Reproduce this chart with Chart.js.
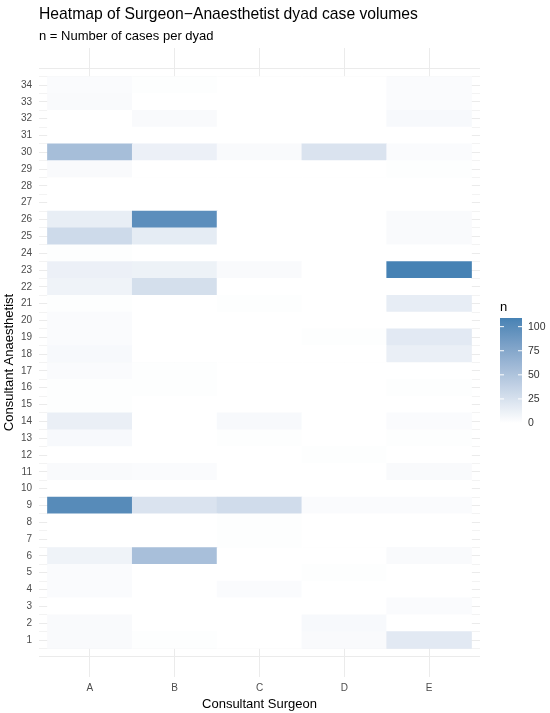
<!DOCTYPE html>
<html>
<head>
<meta charset="utf-8">
<script src="https://cdn.jsdelivr.net/npm/chart.js@4.4.1/dist/chart.umd.min.js"></script>
<style>
  html, body { margin: 0; padding: 0; background: #fff; }
  #wrap { width: 550px; height: 713px; }
</style>
</head>
<body>
<div id="wrap"><canvas id="heatChart"></canvas></div>
<script>
// surgeons on x, anaesthetists 1..34 on y
var surgeons = ["A", "B", "C", "D", "E"];
var anaesthetists = [];
for (var i = 1; i <= 34; i++) anaesthetists.push(i);

// case counts per surgeon, index 0 = anaesthetist 1
var casesA = [4, 4, 0, 3, 3, 10, 0, 0, 101, 0, 4, 0, 5, 13, 1, 1, 3, 5, 3, 3, 1, 10, 12, 1, 31, 14, 0, 0, 4, 55, 0, 0, 4, 3];
var casesB = [1, 0, 0, 0, 0, 54, 0, 0, 23, 0, 3, 0, 0, 0, 0, 1, 1, 0, 0, 0, 0, 27, 11, 0, 16, 98, 0, 0, 0, 12, 0, 4, 0, 1];
var casesC = [0, 0, 0, 3, 0, 0, 1, 1, 29, 0, 0, 0, 1, 5, 0, 0, 0, 0, 0, 0, 1, 0, 4, 0, 0, 0, 0, 0, 0, 4, 0, 0, 0, 0];
var casesD = [4, 5, 0, 0, 1, 0, 0, 0, 3, 0, 0, 1, 0, 0, 0, 0, 0, 0, 1, 0, 0, 0, 0, 0, 0, 0, 0, 0, 0, 23, 0, 0, 0, 0];
var casesE = [18, 0, 3, 0, 0, 4, 0, 0, 3, 0, 4, 0, 1, 3, 0, 1, 0, 13, 18, 0, 15, 0, 109, 0, 4, 4, 0, 0, 1, 3, 0, 5, 3, 3];

var legendTicks = [0, 25, 50, 75, 100];

var allCases = [casesA, casesB, casesC, casesD, casesE];
var nMax = 109;

// white -> steelblue, interpolated in Lab like ggplot's gradient
const toLab = (rgb) => {
  var lin = rgb.map((c) => { c /= 255; return c <= 0.04045 ? c / 12.92 : Math.pow((c + 0.055) / 1.055, 2.4); });
  var X = (0.4124 * lin[0] + 0.3576 * lin[1] + 0.1805 * lin[2]) / 0.95047;
  var Y = 0.2126 * lin[0] + 0.7152 * lin[1] + 0.0722 * lin[2];
  var Z = (0.0193 * lin[0] + 0.1192 * lin[1] + 0.9505 * lin[2]) / 1.08883;
  var f = (t) => t > 0.008856 ? Math.cbrt(t) : 7.787 * t + 16 / 116;
  return [116 * f(Y) - 16, 500 * (f(X) - f(Y)), 200 * (f(Y) - f(Z))];
};
const fromLab = (lab) => {
  var fy = (lab[0] + 16) / 116, fx = fy + lab[1] / 500, fz = fy - lab[2] / 200;
  var g = (t) => t * t * t > 0.008856 ? t * t * t : (t - 16 / 116) / 7.787;
  var X = g(fx) * 0.95047, Y = g(fy), Z = g(fz) * 1.08883;
  var lin = [
    3.2406 * X - 1.5372 * Y - 0.4986 * Z,
    -0.9689 * X + 1.8758 * Y + 0.0415 * Z,
    0.0557 * X - 0.2040 * Y + 1.0570 * Z
  ];
  return lin.map((c) => {
    c = c <= 0.0031308 ? 12.92 * c : 1.055 * Math.pow(c, 1 / 2.4) - 0.055;
    return Math.round(Math.max(0, Math.min(1, c)) * 255);
  });
};
var lowLab = toLab([255, 255, 255]);
var highLab = toLab([70, 130, 180]);

const fillColor = (n) => {
  var t = Math.max(0, Math.min(1, n / nMax));
  var lab = lowLab.map((v, k) => v + (highLab[k] - v) * t);
  var c = fromLab(lab);
  return "rgb(" + c[0] + "," + c[1] + "," + c[2] + ")";
};

// one dataset per anaesthetist row, drawn as floating bars over each surgeon
var datasets = anaesthetists.map((a, ri) => {
  return {
    label: "Anaesthetist " + a,
    data: surgeons.map((s, ci) => ({ x: ci + 1, y: [a - 0.5, a + 0.5] })),
    backgroundColor: allCases.map((col) => fillColor(col[ri])),
    borderWidth: 0,
    grouped: false,
    barPercentage: 1,
    categoryPercentage: 1
  };
});

var FONT = "'Liberation Sans', Arial, sans-serif";

const textPlugin = {
  id: "textPlugin",
  afterDraw(chart) {
    var ctx = chart.ctx;
    var area = chart.chartArea;
    ctx.save();
    ctx.fillStyle = "#000";
    ctx.textAlign = "left";
    ctx.textBaseline = "alphabetic";
    ctx.font = "15.7px " + FONT;
    ctx.fillText("Heatmap of Surgeon\u2212Anaesthetist dyad case volumes", 39, 19);
    ctx.font = "13px " + FONT;
    ctx.fillText("n = Number of cases per dyad", 39, 40);

    // axis titles
    ctx.font = "13px " + FONT;
    ctx.textAlign = "center";
    ctx.textBaseline = "middle";
    ctx.fillText("Consultant Surgeon", (area.left + area.right) / 2, 704);
    ctx.save();
    ctx.translate(9, (area.top + area.bottom) / 2);
    ctx.rotate(-Math.PI / 2);
    ctx.fillText("Consultant Anaesthetist", 0, 0);
    ctx.restore();

    // colour bar legend
    var bx = 500, bw = 22, top = 318, bottom = 423;
    var grad = ctx.createLinearGradient(0, bottom, 0, top);
    for (var k = 0; k <= 20; k++) grad.addColorStop(k / 20, fillColor(nMax * k / 20));
    ctx.fillStyle = grad;
    ctx.fillRect(bx, top, bw, bottom - top);
    ctx.fillStyle = "#000";
    ctx.textAlign = "left";
    ctx.font = "13px " + FONT;
    ctx.fillText("n", 500, 307);
    ctx.font = "10.5px " + FONT;
    ctx.fillStyle = "#333";
    legendTicks.forEach((v) => {
      var y = bottom - (bottom - top) * v / nMax;
      ctx.strokeStyle = "#fff";
      ctx.lineWidth = 1;
      ctx.beginPath();
      ctx.moveTo(bx, y); ctx.lineTo(bx + 4, y);
      ctx.moveTo(bx + bw - 4, y); ctx.lineTo(bx + bw, y);
      ctx.stroke();
      ctx.fillText(String(v), 528, y);
    });
    ctx.restore();
  }
};

var ctx = document.getElementById("heatChart").getContext("2d");

new Chart(ctx, {
  type: "bar",
  data: { datasets: datasets },
  options: {
    responsive: true,
    maintainAspectRatio: false,
    animation: false,
    layout: { padding: { left: 0, top: 48, right: 70, bottom: 0 } },
    plugins: {
      legend: { display: false },
      tooltip: { enabled: false }
    },
    scales: {
      x: {
        type: "linear",
        min: 0.4,
        max: 5.6,
        offset: false,
        afterBuildTicks: (scale) => { scale.ticks = surgeons.map((s, i) => ({ value: i + 1 })); },
        afterFit: (scale) => { scale.height = 36; },
        ticks: {
          autoSkip: false,
          padding: 5,
          color: "#4d4d4d",
          font: { family: FONT, size: 10 },
          callback: (v) => surgeons[v - 1] || ""
        },
        grid: { color: "#ebebeb", lineWidth: 1, drawTicks: false, offset: false },
        border: { display: false }
      },
      y: {
        type: "linear",
        min: -1.2,
        max: 36.2,
        afterBuildTicks: (scale) => {
          var t = [];
          for (var v = 0; v <= 35; v += 0.5) t.push({ value: v });
          scale.ticks = t;
        },
        afterFit: (scale) => { scale.width = 39; },
        ticks: {
          autoSkip: false,
          padding: 7,
          color: "#4d4d4d",
          font: { family: FONT, size: 10 },
          callback: (v) => (Number.isInteger(v) && v >= 1 && v <= 34) ? String(v) : ""
        },
        grid: {
          color: "#ebebeb",
          drawTicks: false,
          lineWidth: (c) => (c.tick && Number.isInteger(c.tick.value)) ? 1 : 0.6
        },
        border: { display: false }
      }
    }
  },
  plugins: [textPlugin]
});
</script>
</body>
</html>
